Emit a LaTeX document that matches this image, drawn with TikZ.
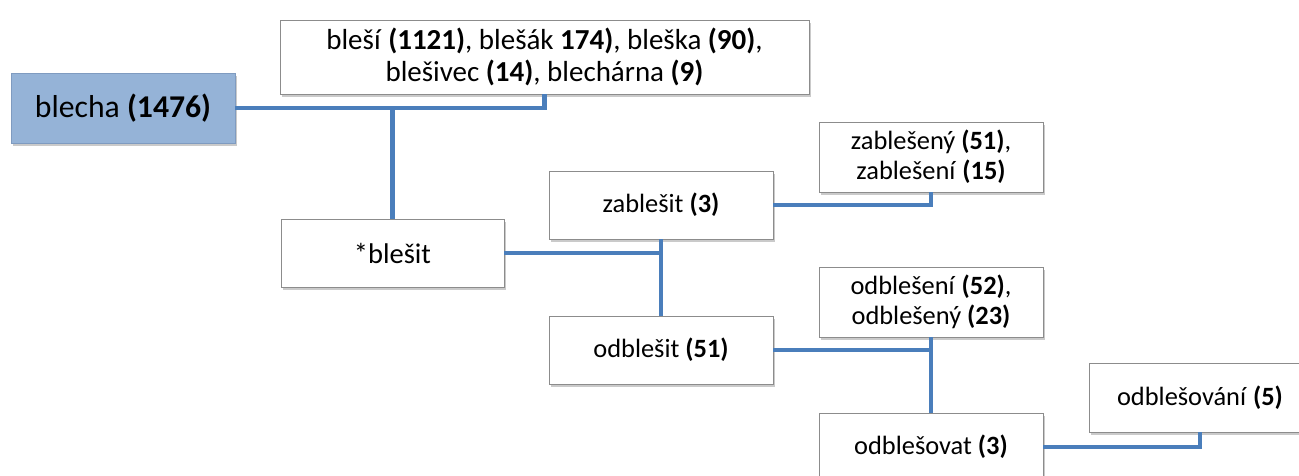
\documentclass[tikz,border=0pt]{standalone}
\usepackage{fontspec}
\setmainfont{Carlito}
\usetikzlibrary{shadows}
\definecolor{linkblue}{HTML}{4A7EBB}
\definecolor{rootfill}{HTML}{95B3D7}
\definecolor{rootdraw}{HTML}{7F9BC0}
\definecolor{boxdraw}{HTML}{8C8C8C}
\tikzset{
  wordbox/.style={draw=boxdraw, line width=0.9pt, fill=white, align=center,
    inner sep=1pt, font=\fontsize{26.4}{30}\selectfont,
    drop shadow={shadow xshift=2pt, shadow yshift=-3pt, opacity=0.35, fill=black!60}},
  rootbox/.style={wordbox, fill=rootfill, draw=rootdraw, font=\fontsize{31.7}{38}\selectfont},
  link/.style={draw=linkblue, line width=4.6pt}
}
\begin{document}
\begin{tikzpicture}[x=1pt, y=-1pt]
\useasboundingbox (0,0) rectangle (1299,475);
% base noun and its direct derivatives
\node[rootbox, minimum width=224pt, minimum height=70pt] (blecha) at (123,108) {blecha \textbf{(1476)}};
\node[wordbox, minimum width=529pt, minimum height=74pt, font=\fontsize{29}{31.5}\selectfont] (nouns) at (544.5,57)
  {bleší \textbf{(1121)}, blešák \textbf{174)}, bleška \textbf{(90)},\\ blešivec \textbf{(14)}, blechárna \textbf{(9)}};
% verbal branch
\node[wordbox, minimum width=223pt, minimum height=68pt, font=\fontsize{28.5}{32}\selectfont] (blesit) at (392.5,253) {*blešit};
\node[wordbox, minimum width=224pt, minimum height=68pt] (zablesit) at (661,205) {zablešit \textbf{(3)}};
\node[wordbox, minimum width=224pt, minimum height=68pt] (odblesit) at (661,350) {odblešit \textbf{(51)}};
\node[wordbox, minimum width=224pt, minimum height=70pt] (zabpart) at (931,157) {zablešený \textbf{(51)},\\ zablešení \textbf{(15)}};
\node[wordbox, minimum width=224pt, minimum height=70pt] (odbpart) at (931,302) {odblešení \textbf{(52)},\\ odblešený \textbf{(23)}};
\node[wordbox, minimum width=224pt, minimum height=68pt] (odblesovat) at (931,447) {odblešovat \textbf{(3)}};
\node[wordbox, minimum width=222pt, minimum height=69pt] (odblesovani) at (1200,397.5) {odblešování \textbf{(5)}};
% connectors
\draw[link] (blecha.east) -- (blecha.east -| nouns.south) -- (nouns.south);
\draw[link] (blecha.east -| blesit.north) -- (blesit.north);
\draw[link] (blesit.east) -- (blesit.east -| zablesit.south);
\draw[link] (zablesit.south) -- (odblesit.north);
\draw[link] (zablesit.east) -- (zablesit.east -| zabpart.south) -- (zabpart.south);
\draw[link] (odblesit.east) -- (odblesit.east -| odbpart.south);
\draw[link] (odbpart.south) -- (odblesovat.north);
\draw[link] (odblesovat.east) -- (odblesovat.east -| odblesovani.south) -- (odblesovani.south);
\end{tikzpicture}
\end{document}
